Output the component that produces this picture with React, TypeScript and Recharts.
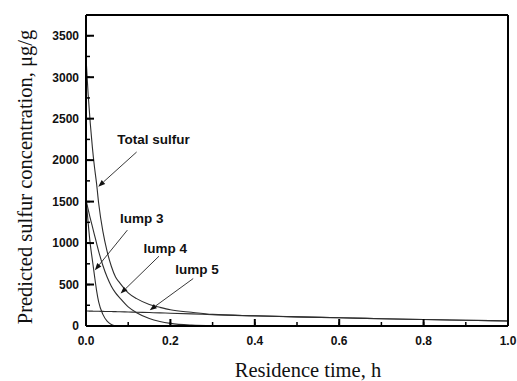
import { LineChart, Line, XAxis, YAxis, ReferenceLine, ReferenceDot } from 'recharts'

// residence time, h
const times = [0, 0.005, 0.01, 0.015, 0.02, 0.025, 0.03, 0.04, 0.05, 0.06, 0.07, 0.08, 0.1, 0.12, 0.15, 0.175, 0.2, 0.25, 0.3, 0.4, 0.5, 0.6, 0.7, 0.8, 0.9, 1.0]

// predicted sulfur, ug/g (null = curve not drawn there)
const totalSulfur = [3240, 2800, 2450, 2160, 1920, 1720, 1480, 1140, 900, 720, 590, 520, 400, 330, 260, 225, 195, 165, 140, 123, 110, 99, 88, 78, 69, 61]
const lump3 = [1540, 1250, 990, 800, 610, 430, 290, 140, 58, 18, 3, null, null, null, null, null, null, null, null, null, null, null, null, null, null, null]
const lump4 = [1520, 1410, 1300, 1200, 1100, 1000, 900, 730, 590, 480, 400, 340, 230, 160, 90, 55, 32, 10, 2, null, null, null, null, null, null, null]
const lump5 = [180, 180, 179, 179, 178, 178, 177, 176, 175, 174, 173, 172, 169, 166, 162, 158, 154, 146, 136, 122, 110, 99, 88, 78, 69, 61]

const xTicks = [0, 0.1, 0.2, 0.3, 0.4, 0.5, 0.6, 0.7, 0.8, 0.9, 1.0]
const yTicks = [0, 250, 500, 750, 1000, 1250, 1500, 1750, 2000, 2250, 2500, 2750, 3000, 3250, 3500]

const labels = ['Total sulfur', 'lump 3', 'lump 4', 'lump 5']
const labelPos = [
  { x: 0.16, y: 2250 },
  { x: 0.132, y: 1300 },
  { x: 0.188, y: 935 },
  { x: 0.263, y: 681 },
]
const arrows = [
  { from: { x: 0.12, y: 2098 }, to: { x: 0.029, y: 1680 } },
  { from: { x: 0.098, y: 1156 }, to: { x: 0.021, y: 673 } },
  { from: { x: 0.173, y: 842 }, to: { x: 0.082, y: 391 } },
  { from: { x: 0.254, y: 572 }, to: { x: 0.151, y: 190 } },
]

const data = times.map((t, i) => ({
  t,
  total: totalSulfur[i],
  lump3: lump3[i],
  lump4: lump4[i],
  lump5: lump5[i],
}))

const tickFont = 'Arial, "Liberation Sans", sans-serif'
const serif = '"Times New Roman", "Liberation Serif", serif'
const LINE = '#2e2e2e'
const TICK = -4 // short inward tick on every value; majors get a longer mark below

const isMajorX = (v: number) => Math.round(v * 10) % 2 === 0
const isMajorY = (v: number) => v % 500 === 0

function XTick(props: any) {
  const { x, y, payload } = props
  if (!isMajorX(payload.value)) return <g />
  return (
    <text x={x} y={y + 9} textAnchor="middle" fontFamily={tickFont} fontWeight="bold" fontSize={12} fill="#111">
      {payload.value.toFixed(1)}
    </text>
  )
}

function YTick(props: any) {
  const { x, y, payload } = props
  if (!isMajorY(payload.value)) return <g />
  return (
    <text x={x} y={y} dy="0.36em" textAnchor="end" fontFamily={tickFont} fontWeight="bold" fontSize={12} fill="#111">
      {payload.value}
    </text>
  )
}

// longer inward mark for the labelled ticks
function Mark(props: any) {
  const { x1, y1, dir } = props
  const d = dir === 'up' ? `M${x1},${y1}L${x1},${y1 - 7}` : `M${x1},${y1}L${x1 + 8},${y1}`
  return <path d={d} stroke="#000" strokeWidth={2} fill="none" />
}

function Arrow(props: any) {
  const { x1, y1, x2, y2 } = props
  const ang = Math.atan2(y2 - y1, x2 - x1)
  const len = 7
  const w = 2.6
  const bx = x2 - len * Math.cos(ang)
  const by = y2 - len * Math.sin(ang)
  const px = -Math.sin(ang) * w
  const py = Math.cos(ang) * w
  return (
    <g>
      <line x1={x1} y1={y1} x2={bx} y2={by} stroke="#222" strokeWidth={0.9} />
      <polygon points={`${x2},${y2} ${bx + px},${by + py} ${bx - px},${by - py}`} fill="#111" />
    </g>
  )
}

export default function App() {
  return (
    <div style={{ position: 'absolute', left: 0, top: 0, width: 517, height: 381, background: '#fff' }}>
      <LineChart width={517} height={381} data={data} margin={{ top: 15, right: 9, bottom: 25, left: 0 }}>
        <XAxis
          dataKey="t"
          type="number"
          domain={[0, 1]}
          ticks={xTicks}
          tick={<XTick />}
          tickLine={{ stroke: '#000', strokeWidth: 1.5 }}
          tickSize={TICK}
          tickMargin={10 - TICK}
          height={30}
          axisLine={{ stroke: '#000', strokeWidth: 2 }}
          interval={0}
        />
        <YAxis
          type="number"
          domain={[0, 3750]}
          ticks={yTicks}
          tick={<YTick />}
          tickLine={{ stroke: '#000', strokeWidth: 1.5 }}
          tickSize={TICK}
          tickMargin={7 - TICK}
          width={86}
          axisLine={{ stroke: '#000', strokeWidth: 2 }}
          interval={0}
        />
        <ReferenceLine y={3750} stroke="#000" strokeWidth={2} ifOverflow="visible" />
        <ReferenceLine x={1} stroke="#000" strokeWidth={2} ifOverflow="visible" />
        <Line dataKey="lump5" type="monotone" stroke={LINE} strokeWidth={1.1} dot={false} isAnimationActive={false} />
        <Line dataKey="lump4" type="monotone" stroke={LINE} strokeWidth={1.1} dot={false} isAnimationActive={false} />
        <Line dataKey="lump3" type="monotone" stroke={LINE} strokeWidth={1.1} dot={false} isAnimationActive={false} />
        <Line dataKey="total" type="monotone" stroke={LINE} strokeWidth={1.1} dot={false} isAnimationActive={false} />
        {xTicks.filter(isMajorX).map((v) => (
          <ReferenceLine
            key={'xt' + v}
            segment={[{ x: v, y: 0 }, { x: v, y: 1 }]}
            ifOverflow="visible"
            shape={(p: any) => <Mark {...p} dir="up" />}
          />
        ))}
        {yTicks.filter(isMajorY).map((v) => (
          <ReferenceLine
            key={'yt' + v}
            segment={[{ x: 0, y: v }, { x: 0.001, y: v }]}
            ifOverflow="visible"
            shape={(p: any) => <Mark {...p} dir="right" />}
          />
        ))}
        {arrows.map((a, i) => (
          <ReferenceLine key={'a' + i} segment={[a.from, a.to]} shape={<Arrow />} ifOverflow="visible" />
        ))}
        {labels.map((l, i) => (
          <ReferenceDot
            key={l}
            x={labelPos[i].x}
            y={labelPos[i].y}
            r={0}
            ifOverflow="visible"
            shape={(p: any) => (
              <text x={p.cx} y={p.cy} dy="0.36em" textAnchor="middle" fontFamily={tickFont} fontWeight="bold" fontSize={13.5} fill="#111">
                {l}
              </text>
            )}
          />
        ))}
      </LineChart>
      <div
        style={{
          position: 'absolute',
          left: 25,
          top: 177,
          transform: 'translate(-50%, -50%) rotate(-90deg)',
          whiteSpace: 'nowrap',
          fontFamily: serif,
          fontSize: 20.5,
          color: '#111',
        }}
      >
        Predicted sulfur concentration, μg/g
      </div>
      <div
        style={{
          position: 'absolute',
          left: 308,
          top: 370,
          transform: 'translate(-50%, -50%)',
          whiteSpace: 'nowrap',
          fontFamily: serif,
          fontSize: 20.5,
          color: '#111',
        }}
      >
        Residence time, h
      </div>
    </div>
  )
}
